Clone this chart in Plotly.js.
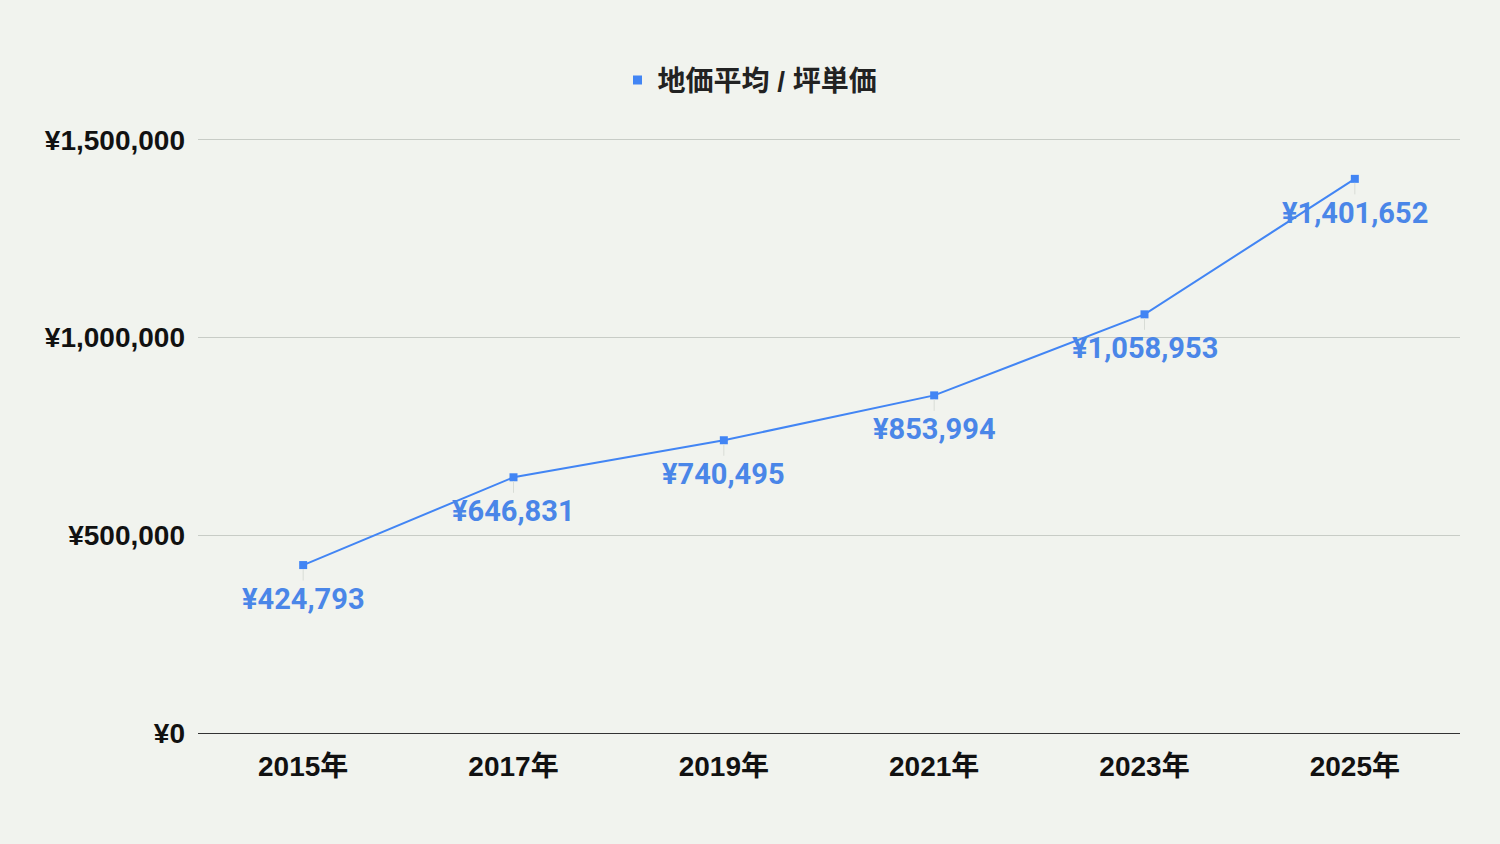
<!DOCTYPE html>
<html>
<head>
<meta charset="utf-8">
<script src="https://cdn.plot.ly/plotly-3.0.1.min.js"></script>
<style>
  html, body { margin: 0; padding: 0; background: #f1f3ee; }
  #chart { width: 1500px; height: 844px; }
</style>
</head>
<body>
<div id="chart"></div>
<script>
// 地価平均 / 坪単価
var years = ["2015年", "2017年", "2019年", "2021年", "2023年", "2025年"];
var prices = [424793, 646831, 740495, 853994, 1058953, 1401652];
var seriesName = "地価平均 / 坪単価";
var yTicks = [0, 500000, 1000000, 1500000];

var blue = "#4285f4";
var tickFont = "'Liberation Sans', Arial, 'Noto Sans CJK JP', sans-serif";

function yen(v) {
    return "¥" + v.toLocaleString("en-US");
}

var data = [
    {
        x: years,
        y: prices,
        type: "scatter",
        mode: "lines+markers",
        line: { color: blue, width: 2 },
        marker: { color: blue, size: 8, symbol: "square" },
        showlegend: false,
        hoverinfo: "skip"
    },
    // legend only entry (square, no line)
    {
        x: [null],
        y: [null],
        type: "scatter",
        mode: "markers",
        name: seriesName,
        marker: { color: blue, size: 9, symbol: "square" }
    }
];

// labels under each point with a faint leader line
var labels = years.map((yr, i) => ({
    x: yr,
    y: prices[i],
    text: yen(prices[i]),
    showarrow: true,
    arrowhead: 0,
    arrowwidth: 1,
    arrowcolor: "#d8dcd6",
    ax: 0,
    ay: 34,
    standoff: 4,
    font: { family: "Roboto, sans-serif", size: 29, color: "#4a86e8", weight: "bold" }
}));

var layout = {
    width: 1500,
    height: 844,
    paper_bgcolor: "#f1f3ee",
    plot_bgcolor: "#f1f3ee",
    margin: { t: 138, b: 111, l: 198, r: 40 },
    showlegend: true,
    legend: {
        orientation: "h",
        x: 0.5,
        xanchor: "center",
        xref: "container",
        y: 0.905,
        yref: "container",
        yanchor: "middle",
        font: { family: tickFont, size: 28, color: "#222", weight: "bold" },
        itemwidth: 30
    },
    xaxis: {
        type: "category",
        range: [-0.5, 5.5],
        showgrid: false,
        showline: true,
        linecolor: "#333",
        linewidth: 1,
        ticks: "",
        ticklabelstandoff: 8,
        tickfont: { family: tickFont, size: 28, color: "#111", weight: "bold" }
    },
    yaxis: {
        range: [0, 1505000],
        tickvals: yTicks,
        ticktext: yTicks.map(yen),
        showgrid: true,
        gridcolor: "#c8ccc6",
        gridwidth: 1,
        zeroline: false,
        showline: false,
        ticks: "",
        ticklabelstandoff: 12,
        tickfont: { family: tickFont, size: 28, color: "#111", weight: "bold" }
    },
    annotations: labels,
    hovermode: false
};

Plotly.newPlot("chart", data, layout, { displayModeBar: false, staticPlot: true });
</script>
</body>
</html>
